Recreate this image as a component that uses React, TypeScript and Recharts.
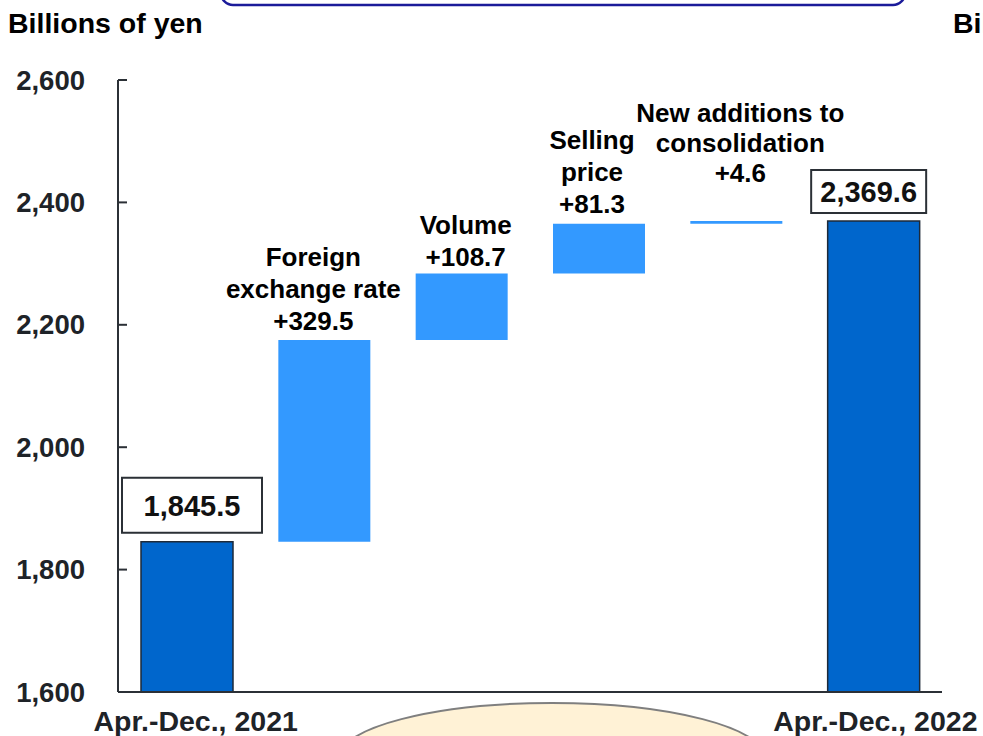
import { BarChart, Bar, XAxis, YAxis, Cell, LabelList } from "recharts";

// waterfall: Apr.-Dec. 2021 -> Apr.-Dec. 2022, billions of yen
const categories = [
  "Apr.-Dec., 2021",
  "Foreign exchange rate",
  "Volume",
  "Selling price",
  "New additions to consolidation",
  "Apr.-Dec., 2022",
];
const startValue = 1845.5;
const changes = [329.5, 108.7, 81.3, 4.6];
const endValue = 2369.6;
const labelLines = [
  ["1,845.5"],
  ["Foreign", "exchange rate", "+329.5"],
  ["Volume", "+108.7"],
  ["Selling", "price", "+81.3"],
  ["New additions to", "consolidation", "+4.6"],
  ["2,369.6"],
];
const yTicks = [1600, 1800, 2000, 2200, 2400, 2600];

const FONT = '"Liberation Sans", Arial, Helvetica, sans-serif';
const DARK = "#0066cc";
const LIGHT = "#3399ff";
const AXIS = "#2b3036";

type Row = { name: string; range: [number, number]; total: boolean };

function buildRows(): Row[] {
  const rows: Row[] = [{ name: categories[0], range: [yTicks[0], startValue], total: true }];
  let level = startValue;
  changes.forEach((c, i) => {
    rows.push({ name: categories[i + 1], range: [level, level + c], total: false });
    level += c;
  });
  rows.push({ name: categories[categories.length - 1], range: [yTicks[0], endValue], total: true });
  return rows;
}

const rows = buildRows();

// per-bar label placement (boxes for totals, stacked lines for changes)
const labelStyle = [
  { dx: 5, w: 140, h: 55, gap: 9, lh: 0 },
  { dx: -11, w: 0, h: 0, gap: 10, lh: 32 },
  { dx: 4, w: 0, h: 0, gap: 8, lh: 32 },
  { dx: -7, w: 0, h: 0, gap: 11, lh: 32 },
  { dx: 4, w: 0, h: 0, gap: 39, lh: 30 },
  { dx: -5, w: 115, h: 43, gap: 8, lh: 0 },
];

function BarLabel(props: any) {
  const { x, y, width, height, index } = props;
  const s = labelStyle[index];
  const lines = labelLines[index];
  const top = Math.min(y, y + height);
  const cx = x + width / 2 + s.dx;
  if (s.w) {
    const bottom = top - s.gap;
    const boxTop = bottom - s.h;
    return (
      <g>
        <rect x={cx - s.w / 2} y={boxTop} width={s.w} height={s.h} fill="#fff" stroke={AXIS} strokeWidth={2} />
        <text x={cx} y={boxTop + s.h / 2 + 10.5} textAnchor="middle" fontSize={29} fontWeight="bold" fontFamily={FONT} fill="#111">
          {lines[0]}
        </text>
      </g>
    );
  }
  const base = top - s.gap;
  return (
    <g>
      {lines.map((l, i) => (
        <text
          key={i}
          x={cx}
          y={base - (lines.length - 1 - i) * s.lh}
          textAnchor="middle"
          fontSize={26}
          fontWeight="bold"
          fontFamily={FONT}
          fill="#000"
        >
          {l}
        </text>
      ))}
    </g>
  );
}

const xLabelDx = [9, 0, 0, 0, 0, 2];

function XTick(props: any) {
  const { x, y, payload, index } = props;
  const i = payload?.index ?? index;
  if (!rows[i]?.total) return <g />;
  return (
    <text x={x + xLabelDx[i]} y={y + 39} textAnchor="middle" fontSize={28.5} fontWeight="bold" fontFamily={FONT} fill="#1e2328">
      {payload.value}
    </text>
  );
}

function YTick(props: any) {
  const { x, y, payload } = props;
  return (
    <g>
      <line x1={x} x2={x + 9} y1={y} y2={y} stroke={AXIS} strokeWidth={2} />
      <text x={x - 33} y={y + 9.5} textAnchor="end" fontSize={27.5} fontWeight="bold" fontFamily={FONT} fill="#1e2328">
        {payload.value.toLocaleString("en-US")}
      </text>
    </g>
  );
}

export default function App() {
  return (
    <div style={{ position: "absolute", left: 0, top: 0, width: 983, height: 736, background: "#fff", overflow: "hidden" }}>
      <BarChart width={983} height={736} data={rows} margin={{ top: 80, right: 41, bottom: 0, left: 8 }}>
        <XAxis
          dataKey="name"
          interval={0}
          tickSize={0}
          tickMargin={0}
          tickLine={false}
          axisLine={{ stroke: AXIS, strokeWidth: 2 }}
          height={44}
          tick={<XTick />}
        />
        <YAxis
          type="number"
          domain={[yTicks[0], yTicks[yTicks.length - 1]]}
          ticks={yTicks}
          interval={0}
          tickSize={0}
          tickMargin={0}
          tickLine={false}
          axisLine={{ stroke: AXIS, strokeWidth: 2 }}
          width={110}
          tick={<YTick />}
        />
        <Bar dataKey="range" barSize={92} isAnimationActive={false}>
          {rows.map((r, i) => (
            <Cell key={i} fill={r.total ? DARK : LIGHT} stroke={r.total ? "#1e2a38" : "none"} strokeWidth={r.total ? 1.5 : 0} />
          ))}
          <LabelList dataKey="range" content={<BarLabel />} />
        </Bar>
      </BarChart>
      <svg width={983} height={736} style={{ position: "absolute", left: 0, top: 0, pointerEvents: "none" }}>
        <rect x={221} y={-40} width={684} height={45} rx={12} fill="#fff" stroke="#1b1b9a" strokeWidth={2.5} />
        <text x={8} y={33} fontSize={28.5} fontWeight="bold" fontFamily={FONT} fill="#000">
          Billions of yen
        </text>
        <text x={953} y={33} fontSize={28.5} fontWeight="bold" fontFamily={FONT} fill="#000">
          Billions of yen
        </text>
        <ellipse cx={552} cy={758} rx={213} ry={55} fill="#fff2d6" stroke="#7f7f7f" strokeWidth={2} />
      </svg>
    </div>
  );
}
